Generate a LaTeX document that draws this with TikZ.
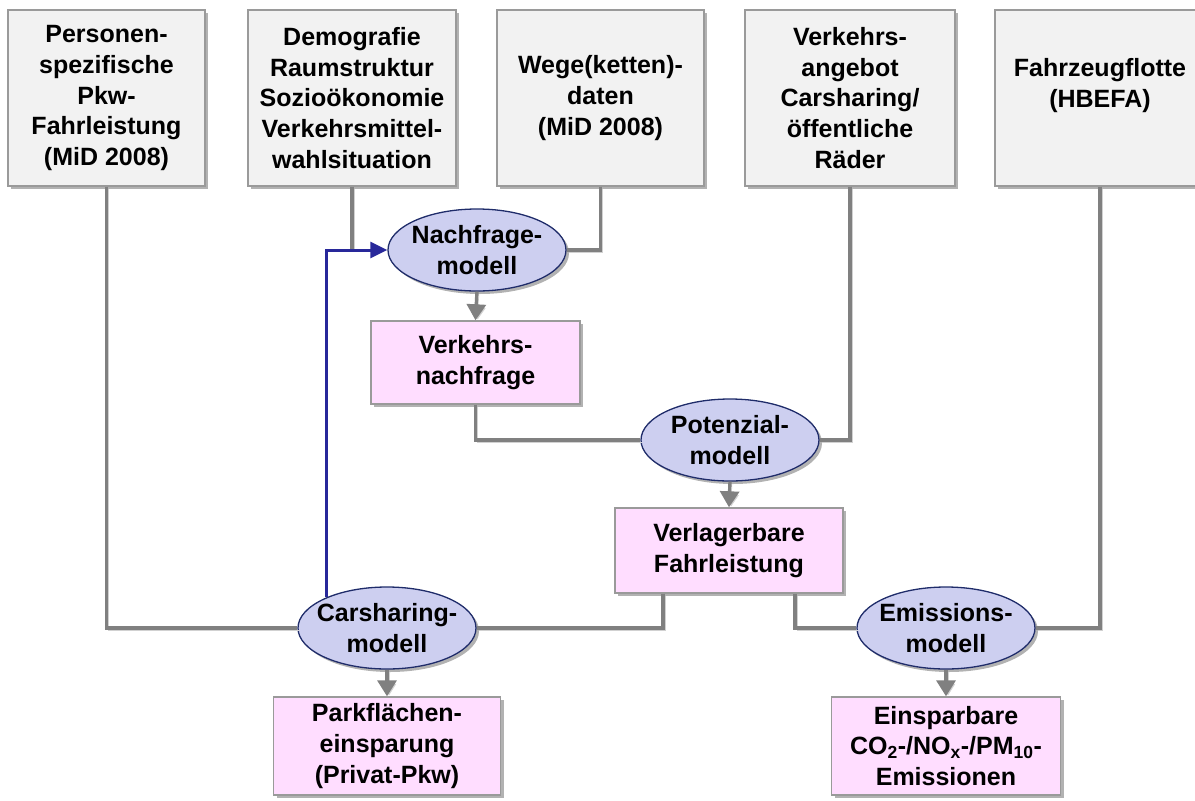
\documentclass[tikz,border=0pt]{standalone}
\usepackage{fontspec}
\setmainfont{Liberation Sans}
\usetikzlibrary{shapes.geometric,shadows,arrows.meta}
\definecolor{boxgrey}{HTML}{F2F2F2}
\definecolor{edgegrey}{HTML}{9A9A9A}
\definecolor{linkgrey}{HTML}{808080}
\definecolor{resultpink}{HTML}{FFDDFF}
\definecolor{modelblue}{HTML}{CDCFF0}
\definecolor{modeledge}{HTML}{1F2C6A}
\definecolor{feedblue}{HTML}{28289A}

\begin{document}
\begin{tikzpicture}[
  x=1pt,y=-1pt,
  font=\fontsize{25}{30.7}\selectfont\bfseries,
  shade_it/.style={drop shadow={shadow xshift=3pt,shadow yshift=-3pt,fill=black,opacity=0.3}},
  input/.style={rectangle,draw=edgegrey,fill=boxgrey,line width=1.4pt,minimum height=176pt,align=center,shade_it},
  result/.style={rectangle,draw=edgegrey,fill=resultpink,line width=1.4pt,align=center,shade_it},
  model/.style={ellipse,draw=modeledge,fill=modelblue,line width=1.3pt,minimum width=178pt,minimum height=82pt,inner xsep=-10pt,inner ysep=0pt,align=center,shade_it},
  link/.style={draw=linkgrey,line width=3.4pt,
    preaction={draw=black!18,transform canvas={shift={(2pt,-2pt)}}}},
  flow/.style={link,-{Triangle[width=19pt,length=16pt]}},
  feedback/.style={draw=feedblue,line width=3pt,-{Triangle[width=16pt,length=17pt]}}]
    \useasboundingbox (0,0) rectangle (1195,801);
    % Input data
    \node[input,minimum width=197pt] (pers) at (106.5,98) {Personen-\\spezifische\\Pkw-\\Fahrleistung\\(MiD 2008)};
    \node[input,minimum width=208pt] (demo) at (352,98) {Demografie\\Raumstruktur\\Sozioökonomie\\Verkehrsmittel-\\wahlsituation};
    \node[input,minimum width=207pt] (wege) at (600.5,98) {Wege(ketten)-\\daten\\(MiD 2008)};
    \node[input,minimum width=210pt] (angebot) at (850,98) {Verkehrs-\\angebot\\Carsharing/\\öffentliche\\Räder};
    \node[input,minimum width=210pt] (flotte) at (1100,98) {Fahrzeugflotte\\(HBEFA)\\\mbox{}};
    % Models
    \node[model] (nachfrage) at (477,250) {Nachfrage-\\modell};
    \node[model] (potenzial) at (730,440) {Potenzial-\\modell};
    \node[model] (carsharing) at (387,628) {Carsharing-\\modell};
    \node[model] (emission) at (946,628) {Emissions-\\modell};
    % Results
    \node[result,minimum width=209pt,minimum height=83pt] (vnachfrage) at (475.5,362.5) {Verkehrs-\\nachfrage};
    \node[result,minimum width=228pt,minimum height=85pt] (verlagerbar) at (729,550.5) {Verlagerbare\\Fahrleistung};
    \node[result,minimum width=227pt,minimum height=98pt] (park) at (387,746) {Parkflächen-\\einsparung\\(Privat-Pkw)};
    \node[result,minimum width=229pt,minimum height=98pt] (einspar) at (946,746) {Einsparbare\\CO\textsubscript{2}-/NO\textsubscript{x}-/PM\textsubscript{10}-\\Emissionen};
    % Connections
    \draw[link] (pers.south) |- (carsharing.west);
    \draw[link] (demo.south) -- (demo.south |- nachfrage.west);
    \draw[link] (wege.south) |- (nachfrage.east);
    \draw[flow] (nachfrage.south) -- (vnachfrage.north);
    \draw[link] (vnachfrage.south) |- (potenzial.west);
    \draw[link] (angebot.south) |- (potenzial.east);
    \draw[flow] (potenzial.south) -- (verlagerbar.north);
    \draw[link] ([xshift=-66pt]verlagerbar.south) |- (carsharing.east);
    \draw[link] ([xshift=66pt]verlagerbar.south) |- (emission.west);
    \draw[link] (flotte.south) |- (emission.east);
    \draw[flow] (carsharing.south) -- (park.north);
    \draw[flow] (emission.south) -- (einspar.north);
    \draw[feedback] (carsharing.153) |- (nachfrage.west);
\end{tikzpicture}
\end{document}
